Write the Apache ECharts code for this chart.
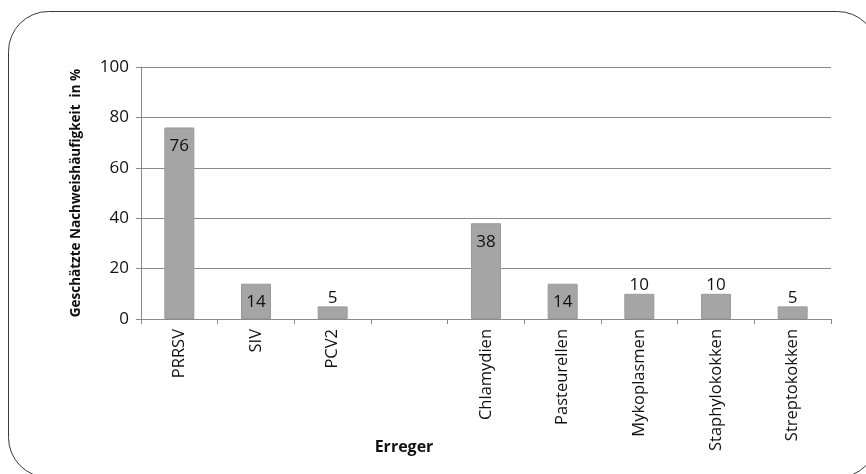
<!DOCTYPE html>
<html>
<head>
<meta charset="utf-8">
<script src="https://cdn.jsdelivr.net/npm/echarts@6/dist/echarts.min.js"></script>
<style>
  html, body { margin: 0; padding: 0; background: #fff; }
  #chart { width: 866px; height: 474px; }
</style>
</head>
<body>
<div id="chart"></div>
<script>
// Pathogen categories (one empty slot separates viruses from bacteria)
const categories = ['PRRSV', 'SIV', 'PCV2', '', 'Chlamydien', 'Pasteurellen', 'Mykoplasmen', 'Staphylokokken', 'Streptokokken'];
// Estimated detection frequency in %
const values = [76, 14, 5, null, 38, 14, 10, 10, 5];
// Value axis ticks
const yTicks = [0, 20, 40, 60, 80, 100];

const FONT = '"Open Sans", "Noto Sans", sans-serif';

// Taller bars carry their label inside the top, short ones above it
const seriesData = values.map(v => {
  if (v === null) return { value: null };
  const inside = v >= 14;
  return {
    value: v,
    label: {
      position: inside ? 'insideTop' : 'top',
      distance: inside ? 10 : 0
    }
  };
});

const chart = echarts.init(document.getElementById('chart'));
chart.setOption({
  animation: false,
  backgroundColor: '#ffffff',
  graphic: [{
    type: 'rect',
    shape: { x: 8.5, y: 11.5, width: 869, height: 466, r: 40 },
    style: { fill: 'none', stroke: '#3a3a3a', lineWidth: 1 },
    silent: true,
    z: -1
  }, {
    // x-axis title, centred under the category block
    type: 'text',
    x: 404,
    y: 447,
    style: {
      text: 'Erreger',
      fontFamily: FONT,
      fontWeight: 'bold',
      fontSize: 16,
      fill: '#111',
      align: 'center',
      verticalAlign: 'middle'
    },
    silent: true
  }],
  grid: { left: 141, right: 35, top: 67, bottom: 155 },
  xAxis: {
    type: 'category',
    data: categories,
    axisLine: { lineStyle: { color: '#8a8a8a' } },
    axisTick: { show: true, alignWithLabel: false, length: 5, lineStyle: { color: '#8a8a8a' } },
    axisLabel: { interval: 0, rotate: 90, fontFamily: FONT, fontSize: 16.5, color: '#111', margin: 10 }
  },
  yAxis: {
    type: 'value',
    min: yTicks[0],
    max: yTicks[yTicks.length - 1],
    interval: yTicks[1] - yTicks[0],
    name: 'Geschätzte Nachweishäufigkeit  in %',
    nameLocation: 'middle',
    nameGap: 58,
    nameRotate: 90,
    nameTextStyle: { fontFamily: FONT, fontWeight: 'bold', fontSize: 13.5, color: '#111' },
    axisLine: { show: true, lineStyle: { color: '#8a8a8a' } },
    axisTick: { show: true, length: 5, lineStyle: { color: '#8a8a8a' } },
    axisLabel: { fontFamily: FONT, fontSize: 17, color: '#111', margin: 12 },
    splitLine: { lineStyle: { color: '#8a8a8a', width: 1 } }
  },
  series: [{
    type: 'bar',
    data: seriesData,
    barWidth: 30,
    itemStyle: { color: '#a5a5a5', borderColor: '#9a9a9a', borderWidth: 1 },
    label: {
      show: true,
      fontFamily: FONT,
      fontSize: 17,
      color: '#111'
    }
  }]
});
</script>
</body>
</html>
